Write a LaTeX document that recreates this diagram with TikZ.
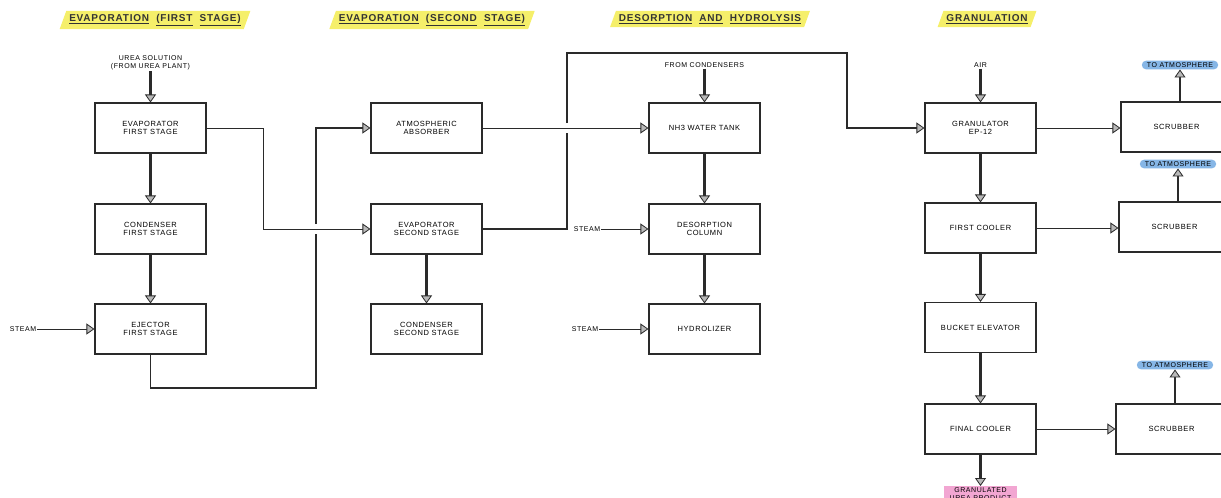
\documentclass[tikz,border=0pt]{standalone}
\usepackage{fontspec}
\setmainfont{Liberation Sans}
\newfontfamily\draftfont{Liberation Sans}[LetterSpace=8]
\usepackage{xcolor}
\usepackage{tikz}
\usetikzlibrary{arrows.meta,shapes.geometric}
\definecolor{hlyel}{HTML}{F5EF6A}
\definecolor{hlblue}{HTML}{86B6E6}
\definecolor{hlpink}{HTML}{F2A6D2}
\definecolor{inkc}{HTML}{2A2A2A}
\tikzset{
  unit/.style={draw=inkc, line width=1.1pt, minimum width=111pt, minimum height=50pt,
               align=center, inner sep=1pt, font=\draftfont\fontsize{7.5}{7.5}\selectfont},
  tag/.style={font=\draftfont\fontsize{7}{7.5}\selectfont, inner sep=1pt, align=center},
  stagehead/.style={trapezium, trapezium left angle=70, trapezium right angle=110,
               fill=hlyel, inner xsep=3pt, inner ysep=3.5pt, font=\draftfont\fontsize{10}{12}\selectfont\bfseries, text=black!80},
  vent/.style={tag, fill=hlblue, rounded corners=4pt, inner xsep=5pt, inner ysep=1.8pt},
  product/.style={tag, fill=hlpink, inner xsep=6pt, inner ysep=1.5pt},
  tip/.style={-{Triangle[length=8pt,width=11pt,fill=gray!55,line width=0.8pt]}},
  feed/.style={tip, draw=inkc, line width=2.2pt},
  side/.style={tip, draw=inkc, line width=0.9pt},
  route/.style={draw=inkc, line width=1.6pt},
}
\newcommand{\ul}[1]{\underline{#1}}
% column and row positions
\def\xA{150.5}
\def\xB{426.5}
\def\xC{704.5}
\def\xD{980.5}
\def\yA{128}
\def\yB{229}
\def\yC{329}
\def\yD{429}
\begin{document}
\begin{tikzpicture}[x=1pt,y=-1pt]
  \useasboundingbox (0,0) rectangle (1221,498);
  % stage headings
  \node[stagehead] (h1) at (155,20) {\ul{EVAPORATION}\ \ \ul{(FIRST}\ \ \ul{STAGE)}};
  \node[stagehead] (h2) at (432,20) {\ul{EVAPORATION}\ \ \ul{(SECOND}\ \ \ul{STAGE)}};
  \node[stagehead] (h3) at (710,19) {\ul{DESORPTION}\ \ \ul{AND}\ \ \ul{HYDROLYSIS}};
  \node[stagehead] (h4) at (987,19) {\ul{GRANULATION}};
  % evaporation, first stage
  \node[tag] (urea) at (\xA,63) {UREA SOLUTION\\(FROM UREA PLANT)};
  \node[unit] (evapF) at (\xA,\yA) {EVAPORATOR\\FIRST STAGE};
  \node[unit] (condF) at (\xA,\yB) {CONDENSER\\FIRST STAGE};
  \node[unit] (ejectF) at (\xA,\yC) {EJECTOR\\FIRST STAGE};
  \node[tag] (steamA) at (23,\yC) {STEAM};
  % evaporation, second stage
  \node[unit] (atmAbs) at (\xB,\yA) {ATMOSPHERIC\\ABSORBER};
  \node[unit] (evapS) at (\xB,\yB) {EVAPORATOR\\SECOND STAGE};
  \node[unit] (condS) at (\xB,\yC) {CONDENSER\\SECOND STAGE};
  % desorption and hydrolysis
  \node[tag] (fromCond) at (\xC,65) {FROM CONDENSERS};
  \node[unit] (nhTank) at (\xC,\yA) {NH3 WATER TANK};
  \node[unit] (desorb) at (\xC,\yB) {DESORPTION\\COLUMN};
  \node[unit] (hydro) at (\xC,\yC) {HYDROLIZER};
  \node[tag] (steamB) at (587,\yB) {STEAM};
  \node[tag] (steamC) at (585,\yC) {STEAM};
  % granulation
  \node[tag] (air) at (\xD,65) {AIR};
  \node[unit] (granul) at (\xD,\yA) {GRANULATOR\\EP-12};
  \node[unit] (coolA) at (\xD,228) {FIRST COOLER};
  \node[unit] (bucket) at (\xD,327.5) {BUCKET ELEVATOR};
  \node[unit] (coolB) at (\xD,\yD) {FINAL COOLER};
  \node[unit] (scrubA) at (1176.5,127) {SCRUBBER};
  \node[unit] (scrubB) at (1174.5,227) {SCRUBBER};
  \node[unit] (scrubC) at (1171.5,\yD) {SCRUBBER};
  \node[vent] (atmA) at (1180,65) {TO ATMOSPHERE};
  \node[vent] (atmB) at (1178,164) {TO ATMOSPHERE};
  \node[vent] (atmC) at (1175,365) {TO ATMOSPHERE};
  \node[product, anchor=north] (prod) at (\xD,486) {GRANULATED\\UREA PRODUCT};
  % bends and line breaks
  \coordinate (bendA) at (263,\yA);
  \coordinate (bendB) at (316,388);
  \coordinate (gapAlo) at (316,234);
  \coordinate (gapAhi) at (316,224);
  \coordinate (gapBlo) at (567,133);
  \coordinate (gapBhi) at (567,123);
  \coordinate (bendC) at (847,53);
  % flows
  \draw[feed] (urea) -- (evapF);
  \draw[feed] (evapF) -- (condF);
  \draw[feed] (condF) -- (ejectF);
  \draw[side] (steamA) -- (ejectF);
  \draw[route] (ejectF.south) |- (bendB) -- (gapAlo);
  \draw[route, tip] (gapAhi) |- (atmAbs.west);
  \draw[side] (evapF.east) -- (bendA) |- (evapS.west);
  \draw[feed] (evapS) -- (condS);
  \draw[side] (atmAbs) -- (nhTank);
  \draw[route] (evapS.east) -| (gapBlo);
  \draw[route, tip] (gapBhi) |- (bendC) |- (granul.west);
  \draw[feed] (fromCond) -- (nhTank);
  \draw[feed] (nhTank) -- (desorb);
  \draw[feed] (desorb) -- (hydro);
  \draw[side] (steamB) -- (desorb);
  \draw[side] (steamC) -- (hydro);
  \draw[feed] (air) -- (granul);
  \draw[side] (granul) -- (scrubA.west |- granul.east);
  \draw[feed] (scrubA.north -| atmA.south) -- (atmA.south);
  \draw[feed] (granul) -- (coolA);
  \draw[side] (coolA) -- (scrubB.west |- coolA.east);
  \draw[feed] (scrubB.north -| atmB.south) -- (atmB.south);
  \draw[feed] (coolA) -- (bucket);
  \draw[feed] (bucket) -- (coolB);
  \draw[side] (coolB) -- (scrubC);
  \draw[feed] (scrubC.north -| atmC.south) -- (atmC.south);
  \draw[feed] (coolB) -- (prod);
\end{tikzpicture}
\end{document}
